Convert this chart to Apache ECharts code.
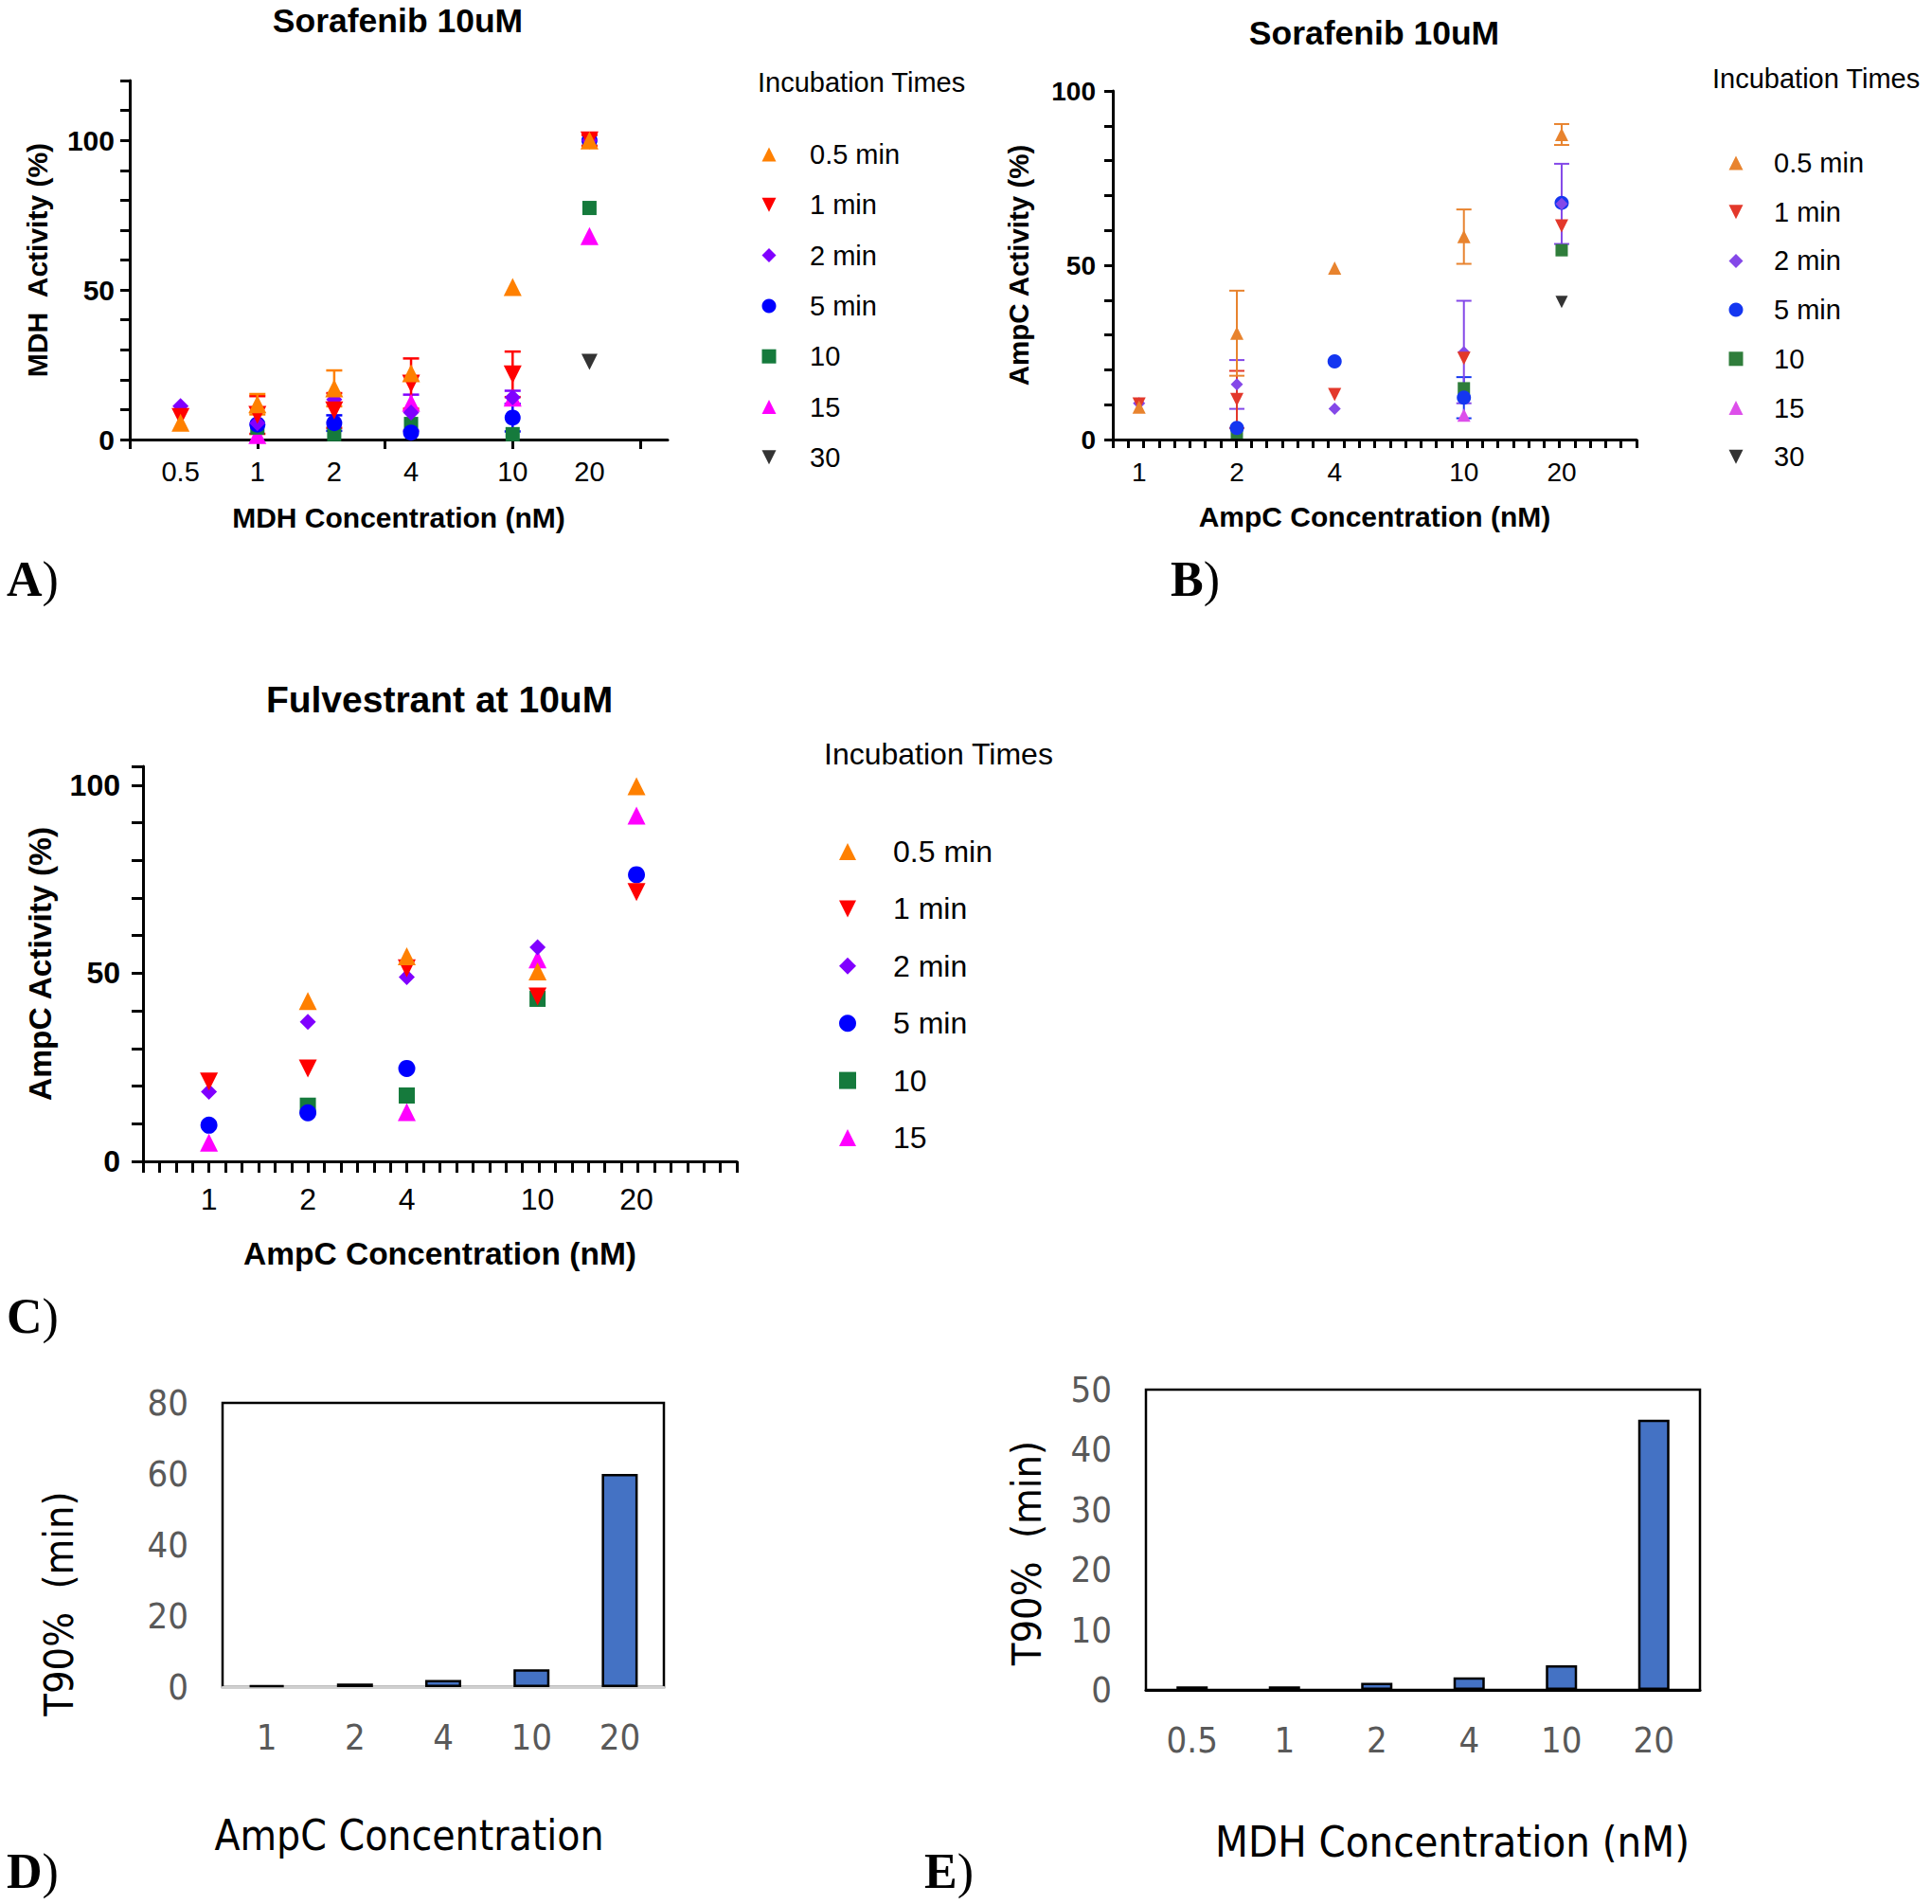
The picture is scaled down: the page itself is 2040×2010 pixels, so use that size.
<!DOCTYPE html>
<html><head><meta charset="utf-8">
<script src="https://cdn.jsdelivr.net/npm/echarts@6/dist/echarts.min.js"></script>
<style>html,body{margin:0;padding:0;background:#fff}#c{width:2040px;height:2010px}</style>
</head><body><div id="c"></div><script>
// ---------- DATA ----------
const timeNames = ['0.5 min', '1 min', '2 min', '5 min', '10', '15', '30'];
const concMDH = [0.5, 1, 2, 4, 10, 20];
const concAmpC = [1, 2, 4, 10, 20];
const yLabelsPct = [0, 50, 100];

// A) Sorafenib 10uM, MDH activity (%)
const sorMdh05 = [5.6, 11.8, 17.1, 22.2, 51.0, 100.0];
const sorMdh05Err = [null, 3.4, 6.0, null, null, null];
const sorMdh1 = [7.5, 8.2, 9.7, 18.7, 21.8, 100.0];
const sorMdh1Err = [null, 6.3, 5.8, 8.4, 7.6, 1.8];
const sorMdh2 = [11.2, 5.5, 13.4, 9.0, 14.1, 100.0];
const sorMdh2Err = [null, null, null, 6.0, 2.2, null];
const sorMdh5 = [null, 5.0, 5.5, 2.3, 7.3, 100.0];
const sorMdh5Err = [null, null, 2.6, null, 4.6, null];
const sorMdh10 = [null, 4.0, 1.8, 5.2, 1.8, 77.4];
const sorMdh15 = [null, 1.5, null, 12.3, 14.0, 68.0];
const sorMdh30 = [null, null, null, null, null, 26.0];

// B) Sorafenib 10uM, AmpC activity (%)
const sorAmp05 = [9.3, 30.5, 49.2, 58.2, 87.5];
const sorAmp05Err = [null, 12.2, null, 7.8, 3.0];
const sorAmp1 = [10.2, 11.5, 12.9, 23.3, 61.3];
const sorAmp1Err = [null, 8.2, null, null, null];
const sorAmp2 = [10.4, 15.8, 8.8, 25.1, 67.6];
const sorAmp2Err = [null, 7.0, null, 14.7, 11.5];
const sorAmp5 = [null, 3.3, 22.4, 12.0, 67.9];
const sorAmp5Err = [null, null, null, 5.9, null];
const sorAmp10 = [null, 2.0, null, 14.7, 54.3];
const sorAmp15 = [null, null, null, 7.0, null];
const sorAmp30 = [null, null, null, null, 39.5];

// C) Fulvestrant at 10uM, AmpC activity (%)
const fulAmp05 = [null, 42.6, 54.5, 50.5, 99.7];
const fulAmp1 = [21.2, 24.7, 51.3, 43.8, 71.6];
const fulAmp2 = [18.5, 37.1, 49.0, 56.9, null];
const fulAmp5 = [9.6, 12.9, 24.7, null, 76.2];
const fulAmp10 = [null, 14.8, 17.5, 43.2, null];
const fulAmp15 = [5.0, null, 13.1, 53.7, 91.9];

// D) / E) T90% (min)
const catAmpC = ['1', '2', '4', '10', '20'];
const t90AmpC = [0.5, 1, 2, 5, 60];
const catMDH = ['0.5', '1', '2', '4', '10', '20'];
const t90MDH = [0.6, 0.6, 1.2, 2.1, 4.1, 45];

// ---------- STYLE ----------
const FS = 'Liberation Sans, Arial, sans-serif';
const FN = '"Liberation Sans Narrow", "DejaVu Sans Condensed", "Arial Narrow", sans-serif';
const DOWN = 'path://M0,0L10,0L5,10Z';
const symbols = ['triangle', DOWN, 'diamond', 'circle', 'rect', 'triangle', DOWN];
const colorsBright = ['#FF8000', '#FF0000', '#8000FF', '#0000FF', '#157A3C', '#FF00FF', '#333333'];
const colorsMuted = ['#E8832E', '#E3382B', '#8448E8', '#1436F0', '#2F7D3B', '#DD4FEA', '#333333'];
const sizesA = [19, 19, 17, 17, 15, 19, 17];
const sizesB = [14, 14, 13, 15, 13, 14, 13];
const sizesC = [19, 19, 17, 18, 17, 19, 17];

function errRender(color, cap, lw) {
  return function (params, api) {
    const x = api.value(0), y = api.value(1), e = api.value(2);
    const t = api.coord([x, y + e]), b = api.coord([x, y - e]);
    const h = cap / 2, st = { stroke: color, lineWidth: lw };
    return { type: 'group', children: [
      { type: 'line', shape: { x1: t[0], y1: t[1], x2: b[0], y2: b[1] }, style: st },
      { type: 'line', shape: { x1: t[0] - h, y1: t[1], x2: t[0] + h, y2: t[1] }, style: st },
      { type: 'line', shape: { x1: b[0] - h, y1: b[1], x2: b[0] + h, y2: b[1] }, style: st }
    ] };
  };
}

const series = [];
function addPanel(conc, sets, errs, colors, sizes, xi, yi, cap, lw) {
  for (let i = sets.length - 1; i >= 0; i--) {
    const vals = sets[i];
    const err = errs[i];
    if (err) {
      series.push({
        type: 'custom', name: timeNames[i] + ' sd', xAxisIndex: xi, yAxisIndex: yi,
        renderItem: errRender(colors[i], cap, lw), silent: true,
        encode: { x: 0, y: 1 },
        data: conc.map((c, j) => (vals[j] != null && err[j] != null) ? [c, vals[j], err[j]] : null).filter(Boolean)
      });
    }
    series.push({
      type: 'scatter', name: timeNames[i], xAxisIndex: xi, yAxisIndex: yi,
      symbol: symbols[i], symbolSize: sizes[i], silent: true,
      itemStyle: { color: colors[i], opacity: 1 },
      data: conc.map((c, j) => vals[j] != null ? [c, vals[j]] : null).filter(Boolean)
    });
  }
}
addPanel(concMDH, [sorMdh05, sorMdh1, sorMdh2, sorMdh5, sorMdh10, sorMdh15, sorMdh30],
  [sorMdh05Err, sorMdh1Err, sorMdh2Err, sorMdh5Err, null, null, null], colorsBright, sizesA, 0, 0, 17, 2.5);
addPanel(concAmpC, [sorAmp05, sorAmp1, sorAmp2, sorAmp5, sorAmp10, sorAmp15, sorAmp30],
  [sorAmp05Err, sorAmp1Err, sorAmp2Err, sorAmp5Err, null, null, null], colorsMuted, sizesB, 1, 1, 16, 2);
addPanel(concAmpC, [fulAmp05, fulAmp1, fulAmp2, fulAmp5, fulAmp10, fulAmp15],
  [null, null, null, null, null, null], colorsBright, sizesC, 3, 2, 16, 2);

series.push({ type: 'bar', xAxisIndex: 5, yAxisIndex: 3, data: t90AmpC, barWidth: 38, silent: true,
  itemStyle: { color: '#4472C4', borderColor: '#000', borderWidth: 2.5 } });
series.push({ type: 'bar', xAxisIndex: 6, yAxisIndex: 4, data: t90MDH, barWidth: 33, silent: true,
  itemStyle: { color: '#4472C4', borderColor: '#000', borderWidth: 2.5 } });

// ---------- AXES ----------
function logX(gi, min, max, labels, fs, margin, name, nameGap, nameFs, ticks) {
  return {
    type: 'log', logBase: 10, gridIndex: gi, min, max,
    name, nameLocation: 'middle', nameGap,
    nameTextStyle: { fontFamily: FS, fontSize: nameFs, fontWeight: 'bold', color: '#000' },
    axisLine: { show: true, onZero: false, lineStyle: { color: '#000', width: 3 } },
    axisTick: ticks ? { show: true, customValues: ticks, length: 10, lineStyle: { color: '#000', width: 3 } } : { show: false },
    minorTick: { show: false },
    axisLabel: { customValues: labels, formatter: v => String(v), fontFamily: FS, fontSize: fs, color: '#000', margin },
    splitLine: { show: false }, minorSplitLine: { show: false }
  };
}
function tickX(gi, max, len, w) {
  return {
    type: 'value', gridIndex: gi, min: 0, max, interval: 1, position: 'bottom',
    axisLine: { show: false, onZero: false }, axisLabel: { show: false }, splitLine: { show: false },
    axisTick: { show: true, length: len, lineStyle: { color: '#000', width: w } }
  };
}
function pctY(gi, max, fs, margin, name, nameGap, nameFs, tickLen) {
  return {
    type: 'value', gridIndex: gi, min: 0, max, interval: 10,
    name, nameLocation: 'middle', nameGap,
    nameTextStyle: { fontFamily: FS, fontSize: nameFs, fontWeight: 'bold', color: '#000' },
    axisLine: { show: true, lineStyle: { color: '#000', width: 3 } },
    axisTick: { show: true, length: tickLen, lineStyle: { color: '#000', width: 3 } },
    axisLabel: { customValues: yLabelsPct, fontFamily: FS, fontSize: fs, fontWeight: 'bold', color: '#000', margin },
    splitLine: { show: false }
  };
}
function catX(gi, data, lineColor, name, nameGap, nameFs, pad) {
  return {
    type: 'category', gridIndex: gi, data,
    name, nameLocation: 'middle', nameGap,
    nameTextStyle: { fontFamily: FN, fontSize: nameFs, color: '#000', padding: pad },
    axisLine: { show: true, lineStyle: { color: lineColor, width: 3 } },
    axisTick: { show: false },
    axisLabel: { fontFamily: FN, fontSize: 38, color: '#595959', margin: 34 },
    splitLine: { show: false }
  };
}
function t90Y(gi, max, interval, nameGap, pad) {
  return {
    type: 'value', gridIndex: gi, min: 0, max, interval,
    name: 'T90%  (min)', nameLocation: 'middle', nameGap,
    nameTextStyle: { fontFamily: FN, fontSize: 43, color: '#000', padding: pad },
    axisLine: { show: false }, axisTick: { show: false }, splitLine: { show: false },
    axisLabel: { fontFamily: FN, fontSize: 38, color: '#595959', margin: 36 }
  };
}

function legendFor(left, top, names, colors, size, fs, lh, gap, pad) {
  return {
    orient: 'vertical', left, top, padding: 0, itemWidth: size, itemHeight: size, itemGap: gap,
    selectedMode: false,
    textStyle: { fontFamily: FS, fontSize: fs, color: '#000', lineHeight: lh, padding: [0, 0, 0, pad] },
    data: names.map((n, i) => ({ name: n, icon: symbols[i], itemStyle: { color: colors[i] } }))
  };
}

function txt(x, y, text, size, weight, align) {
  return { type: 'text', x, y, silent: true,
    style: { text, fill: '#000', fontFamily: FS, fontSize: size, fontWeight: weight,
      align: align, textAlign: align, verticalAlign: 'middle', textVerticalAlign: 'middle' } };
}
function letter(x, y, L) {
  return { type: 'text', x, y, silent: true,
    style: { text: '{b|' + L + '}{r|)}', fill: '#000', verticalAlign: 'middle', textVerticalAlign: 'middle',
      rich: { b: { fontFamily: 'Liberation Serif, Times New Roman, serif', fontSize: 52, fontWeight: 'bold' },
              r: { fontFamily: 'Liberation Serif, Times New Roman, serif', fontSize: 52 } } } };
}

const option = {
  animation: false,
  backgroundColor: '#fff',
  grid: [
    { left: 137, top: 85, width: 568, height: 379 },
    { left: 1175, top: 96, width: 553, height: 368 },
    { left: 151, top: 809, width: 627, height: 417 },
    { left: 235, top: 1481, width: 466, height: 300, show: true, borderColor: '#000', borderWidth: 2.5, backgroundColor: 'transparent' },
    { left: 1210, top: 1467, width: 585, height: 317, show: true, borderColor: '#000', borderWidth: 2.5, backgroundColor: 'transparent' }
  ],
  xAxis: [
    logX(0, 0.3162, 40.5, concMDH, 29, 19, 'MDH Concentration (nM)', 67, 30, [0.3163, 1, 3.1623, 10, 31.623]),
    logX(1, 0.83, 34, concAmpC, 28, 20, 'AmpC Concentration (nM)', 66, 30, null),
    tickX(1, 34, 9, 3),
    logX(2, 0.63, 40.4, concAmpC, 32, 24, 'AmpC Concentration (nM)', 80, 33.5, null),
    tickX(2, 36, 12, 3),
    catX(3, catAmpC, '#D0D0D0', 'AmpC Concentration', 134, 44, [0, 72, 0, 0]),
    catX(4, catMDH, '#000', 'MDH Concentration (nM)', 138, 45, [0, 0, 0, 62])
  ],
  yAxis: [
    pctY(0, 120, 30, 16, 'MDH  Activity (%)', 83, 30, 10),
    pctY(1, 100, 28, 18, 'AmpC Activity (%)', 85, 29.5, 9),
    pctY(2, 105, 32, 24, 'AmpC Activity (%)', 92, 33.5, 12),
    t90Y(3, 80, 20, 152, [0, 124, 0, 0]),
    t90Y(4, 50, 10, 105, [0, 28, 0, 0])
  ],
  legend: [
    legendFor(804.5, 148, timeNames, colorsBright, 15, 29, 30, 23.3, 30.5),
    legendFor(1825.5, 157, timeNames, colorsMuted, 15, 29, 30, 21.7, 27.5),
    legendFor(886, 882, timeNames.slice(0, 6), colorsBright, 18, 32, 34, 26.4, 34)
  ],
  graphic: [
    txt(420, 22, 'Sorafenib 10uM', 35.5, 'bold', 'center'),
    txt(1451, 35, 'Sorafenib 10uM', 35.5, 'bold', 'center'),
    txt(464, 738, 'Fulvestrant at 10uM', 39, 'bold', 'center'),
    txt(800, 87, 'Incubation Times', 29, 'normal', 'left'),
    txt(1808, 83, 'Incubation Times', 29, 'normal', 'left'),
    txt(870, 796, 'Incubation Times', 32, 'normal', 'left'),
    letter(7, 611, 'A'),
    letter(1236, 611, 'B'),
    letter(7, 1389, 'C'),
    letter(7, 1975, 'D'),
    letter(976, 1975, 'E')
  ],
  series
};
const chart = echarts.init(document.getElementById('c'), null, { renderer: 'svg', width: 2040, height: 2010 });
chart.setOption(option);
</script></body></html>
